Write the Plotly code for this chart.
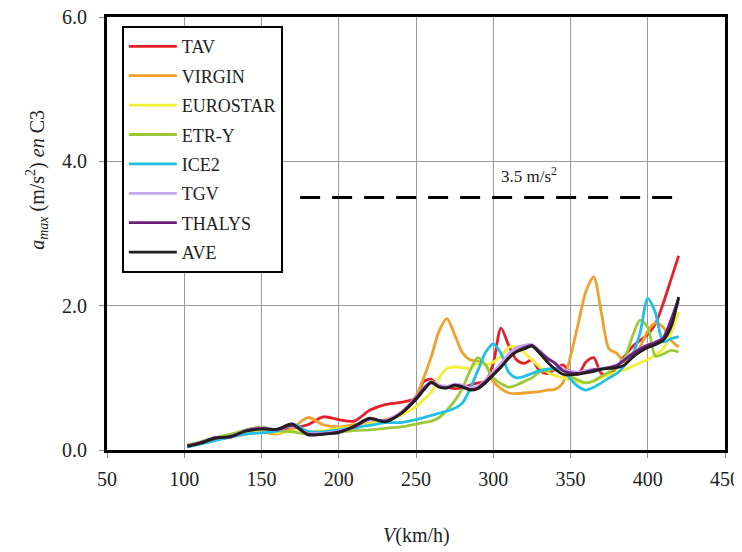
import plotly.graph_objects as go

V = [102, 110, 120, 130, 140, 150, 160, 170, 180, 190, 200, 210, 220, 230, 240, 250,
     255, 260, 265, 270, 275, 280, 285, 290, 295, 300, 305, 310, 315, 320, 325, 330,
     335, 340, 345, 350, 355, 360, 365, 370, 375, 380, 385, 390, 395, 400, 405, 410,
     415, 420]

TAV = [0.05, 0.10, 0.15, 0.20, 0.25, 0.28, 0.26, 0.30, 0.35, 0.46, 0.42, 0.40, 0.55, 0.63, 0.66, 0.72,
       0.95, 0.98, 0.88, 0.87, 0.85, 0.86, 0.90, 0.93, 0.95, 1.20, 1.69, 1.45, 1.25, 1.20, 1.25, 1.10,
       1.06, 1.12, 1.18, 1.08, 1.05, 1.22, 1.28, 1.06, 1.05, 1.15, 1.30, 1.43, 1.52, 1.60, 1.75, 2.03,
       2.36, 2.69]
VIRGIN = [0.06, 0.09, 0.14, 0.18, 0.22, 0.25, 0.22, 0.30, 0.45, 0.35, 0.32, 0.35, 0.37, 0.42, 0.50, 0.75,
          1.00, 1.30, 1.65, 1.82, 1.60, 1.35, 1.25, 1.23, 1.18, 0.95, 0.85, 0.79, 0.78, 0.79, 0.80, 0.81,
          0.83, 0.84, 0.93, 1.30, 1.75, 2.20, 2.40, 1.90, 1.40, 1.34, 1.22, 1.30, 1.43, 1.65, 1.76, 1.70,
          1.52, 1.43]
EUROSTAR = [0.06, 0.10, 0.15, 0.20, 0.24, 0.27, 0.24, 0.26, 0.25, 0.27, 0.30, 0.32, 0.36, 0.40, 0.48, 0.60,
            0.70, 0.80, 1.00, 1.13, 1.15, 1.14, 1.13, 1.20, 1.18, 1.22, 1.30, 1.42, 1.43, 1.35, 1.25, 1.15,
            1.08, 1.03, 1.00, 0.97, 0.94, 0.93, 0.95, 1.00, 1.04, 1.08, 1.11, 1.16, 1.21, 1.25, 1.32, 1.40,
            1.62, 1.91]
ETRY = [0.07, 0.11, 0.17, 0.22, 0.28, 0.32, 0.27, 0.25, 0.22, 0.22, 0.25, 0.27, 0.28, 0.30, 0.32, 0.36,
        0.38, 0.40, 0.45, 0.55, 0.68, 0.85, 1.10, 1.28, 1.18, 1.00, 0.92, 0.87, 0.90, 0.95, 1.00, 1.08,
        1.10, 1.12, 1.11, 1.02, 0.97, 0.93, 0.96, 1.02, 1.08, 1.15, 1.27, 1.57, 1.80, 1.70, 1.30, 1.33,
        1.38, 1.36]
ICE2 = [0.04, 0.08, 0.13, 0.18, 0.22, 0.24, 0.26, 0.36, 0.26, 0.25, 0.28, 0.31, 0.34, 0.38, 0.38, 0.42,
        0.45, 0.48, 0.51, 0.54, 0.58, 0.65, 0.85, 1.10, 1.35, 1.47, 1.34, 1.08, 1.00, 1.02, 1.06, 1.10,
        1.12, 1.13, 1.12, 0.98, 0.88, 0.83, 0.87, 0.93, 1.00, 1.06, 1.17, 1.32, 1.62, 2.10, 1.90, 1.50,
        1.54, 1.57]
TGV = [0.06, 0.10, 0.16, 0.19, 0.27, 0.31, 0.28, 0.33, 0.23, 0.23, 0.26, 0.32, 0.42, 0.41, 0.52, 0.73,
       0.86, 0.95, 0.90, 0.88, 0.91, 0.90, 0.86, 0.88, 0.97, 1.08, 1.20, 1.33, 1.42, 1.45, 1.46, 1.38,
       1.28, 1.21, 1.12, 1.09, 1.08, 1.10, 1.12, 1.13, 1.15, 1.18, 1.26, 1.34, 1.41, 1.46, 1.50, 1.56,
       1.78, 2.05]
THALYS = [0.06, 0.10, 0.17, 0.18, 0.27, 0.30, 0.28, 0.34, 0.22, 0.22, 0.25, 0.32, 0.43, 0.40, 0.50, 0.72,
          0.85, 0.93, 0.88, 0.86, 0.90, 0.88, 0.84, 0.86, 0.95, 1.05, 1.15, 1.28, 1.37, 1.42, 1.45, 1.36,
          1.27, 1.20, 1.10, 1.07, 1.06, 1.08, 1.11, 1.12, 1.14, 1.17, 1.25, 1.33, 1.40, 1.45, 1.49, 1.55,
          1.80, 2.10]
AVE = [0.05, 0.09, 0.16, 0.19, 0.26, 0.29, 0.29, 0.36, 0.21, 0.22, 0.24, 0.33, 0.44, 0.39, 0.50, 0.70,
       0.83, 0.94, 0.87, 0.86, 0.90, 0.87, 0.83, 0.85, 0.93, 1.04, 1.15, 1.27, 1.36, 1.40, 1.44, 1.34,
       1.22, 1.12, 1.05, 1.04, 1.05, 1.07, 1.09, 1.12, 1.13, 1.14, 1.18, 1.28, 1.36, 1.42, 1.46, 1.52,
       1.70, 2.12]

SERIES = [("TAV", TAV, "#e4202a"), ("VIRGIN", VIRGIN, "#f0a02c"), ("EUROSTAR", EUROSTAR, "#f4f03a"),
          ("ETR-Y", ETRY, "#9cc83a"), ("ICE2", ICE2, "#22c0e6"), ("TGV", TGV, "#c9a6ec"),
          ("THALYS", THALYS, "#6b1f78"), ("AVE", AVE, "#231f20")]

LIMIT_X = [175, 420]
LIMIT_Y = 3.5
X_TICKS = [50, 100, 150, 200, 250, 300, 350, 400, 450]
Y_TICKS = [0, 2, 4, 6]

SERIF = "Times New Roman, Liberation Serif, serif"

fig = go.Figure()
for name, vals, color in SERIES:
    fig.add_trace(go.Scatter(x=V, y=vals, mode="lines", name=name, legendgroup=name,
                             line=dict(color=color, width=2.8, shape="spline", smoothing=0.8)))

fig.add_trace(go.Scatter(x=LIMIT_X, y=[LIMIT_Y, LIMIT_Y], mode="lines", showlegend=False,
                         line=dict(color="black", width=3, dash="20px,12px")))

fig.add_annotation(x=323, y=3.5, yshift=22, text="3.5 m/s<sup>2</sup>", showarrow=False,
                   font=dict(family=SERIF, size=17, color="#222"))

fig.add_annotation(xref="paper", yref="paper", x=-0.1133, y=0.624, textangle=-90,
                   text="<i>a</i><sub><i>max</i></sub> (m/s<sup>2</sup>) <i>en</i> C3",
                   showarrow=False, xanchor="center", yanchor="middle",
                   font=dict(family=SERIF, size=20, color="#222"))

fig.add_annotation(xref="paper", yref="paper", x=0.5, y=-0.197, yanchor="middle",
                   text="<i>V</i>(km/h)", showarrow=False,
                   font=dict(family=SERIF, size=20, color="#222"))

axis_common = dict(showline=True, mirror=True, linecolor="black", linewidth=3,
                   showgrid=True, gridcolor="#9a9a9a", gridwidth=1, automargin=False,
                   ticks="outside", ticklen=5, tickcolor="#888", zeroline=False,
                   ticklabeloverflow="allow",
                   tickfont=dict(family=SERIF, size=20, color="#222"))

fig.update_xaxes(range=[50, 450], tickvals=X_TICKS, ticklabelstandoff=4, **axis_common)
fig.update_yaxes(range=[0, 6], tickvals=Y_TICKS, tickformat=".1f", ticklabelstandoff=8,
                 **axis_common)

fig.update_layout(
    width=734, height=544,
    margin=dict(l=99, r=17, t=9, b=102),
    plot_bgcolor="white", paper_bgcolor="white",
    legend=dict(x=0.024, y=0.979, xanchor="left", yanchor="top", itemwidth=48,
                bgcolor="white", bordercolor="black", borderwidth=2,
                font=dict(family=SERIF, size=18, color="#222"),
                traceorder="grouped", tracegroupgap=3),
)

fig.write_html("out.html")
